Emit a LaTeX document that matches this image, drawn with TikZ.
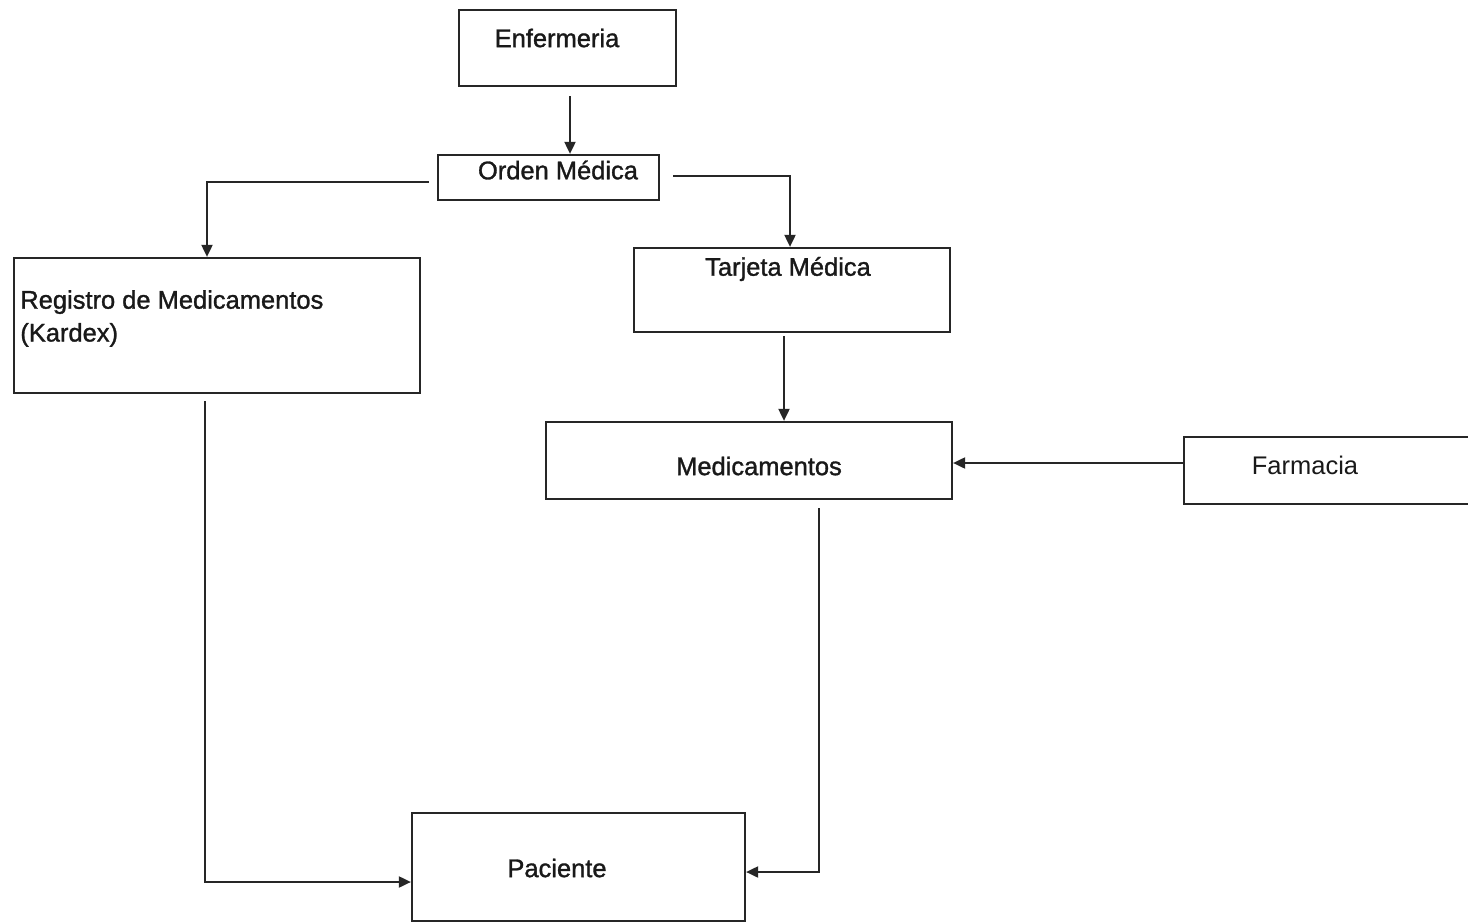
\documentclass[tikz,border=0pt]{standalone}
\usepackage{fontspec}
\setmainfont{Liberation Sans}
\newfontfamily\heavyfont[FakeBold=1.2]{Liberation Sans}
\usetikzlibrary{arrows.meta,calc}
\begin{document}
\begin{tikzpicture}[x={0.02cm},y={-0.02cm},
  box/.style={draw=black!85, line width=1.3pt, rectangle, inner sep=0pt},
  lab/.style={font=\heavyfont\fontsize{14.5}{18.7}\selectfont, text=black!90, inner sep=0pt},
  lightlab/.style={font=\fontsize{14.5}{18.7}\selectfont, text=black!90, inner sep=0pt},
  conn/.style={draw=black!85, line width=1.1pt},
  arr/.style={conn, -{Triangle[length=0.24cm,width=0.22cm]}}]
\useasboundingbox[fill=white] (0,0) rectangle (1468,923);
% boxes
\node[box, minimum width=4.34cm, minimum height=1.52cm] (enf) at (567.5,48) {};
\node[lab] (tenf) at (557,38) {Enfermeria};
\node[box, minimum width=4.42cm, minimum height=0.9cm] (orden) at (548.5,177.5) {};
\node[lab] (torden) at (558,170) {Orden Médica};
\node[box, minimum width=8.12cm, minimum height=2.7cm] (reg) at (217,325.5) {};
\node[lab, align=left, anchor=west] (treg) at (20,318.5) {Registro de Medicamentos\\(Kardex)};
\node[box, minimum width=6.32cm, minimum height=1.68cm] (tar) at (792,290) {};
\node[lab] (ttar) at (788,269) {Tarjeta Médica};
\node[box, minimum width=8.12cm, minimum height=1.54cm] (med) at (749,460.5) {};
\node[lab] (tmed) at (759,466) {Medicamentos};
\node[rectangle, inner sep=0pt, minimum width=5.82cm, minimum height=1.34cm] (farm) at (1329.5,470.5) {};
\draw[box] (farm.north east) -- (farm.north west) -- (farm.south west) -- (farm.south east);
\node[lightlab] (tfarm) at (1305,465) {Farmacia};
\node[box, minimum width=6.66cm, minimum height=2.16cm] (pac) at (578.5,867) {};
\node[lab] (tpac) at (557,868) {Paciente};
% connectors
\draw[arr] ([xshift=0.05cm,yshift=-0.18cm]enf.south) -- ([xshift=0.05cm]enf.south |- orden.north);
\draw[arr] ([xshift=-0.16cm,yshift=-0.09cm]orden.west) -| ([xshift=-0.2cm]reg.north);
\draw[arr] ([xshift=0.26cm,yshift=0.03cm]orden.east) -| ([xshift=-0.04cm]tar.north);
\draw[arr] ([xshift=-0.16cm,yshift=-0.06cm]tar.south) -- ([xshift=-0.16cm]tar.south |- med.north);
\draw[arr] ([yshift=0.15cm]farm.west) -- ([yshift=-0.05cm]med.east);
\draw[arr] ([xshift=-0.24cm,yshift=-0.14cm]reg.south) |- ([yshift=-0.3cm]pac.west);
\draw[arr] ([xshift=1.4cm,yshift=-0.16cm]med.south) |- ([yshift=-0.1cm]pac.east);
\end{tikzpicture}
\end{document}
